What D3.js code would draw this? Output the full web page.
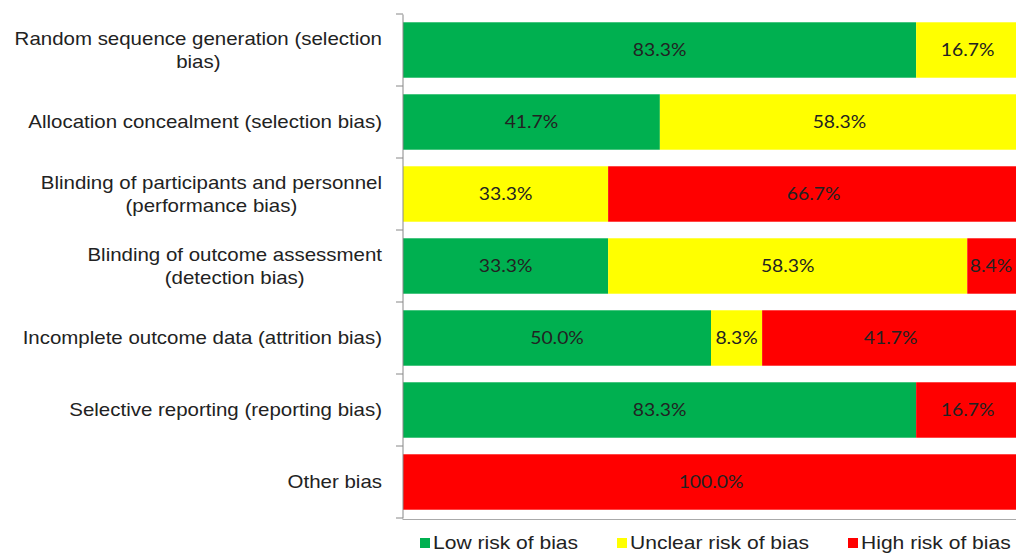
<!DOCTYPE html>
<html>
<head>
<meta charset="utf-8">
<script src="https://cdn.jsdelivr.net/npm/d3@7"></script>
<style>
  body { margin: 0; background: #fff; }
  svg { display: block; }
</style>
</head>
<body>
<svg width="1016" height="554"></svg>
<script>
const categories = [
    ["Random sequence generation (selection", "bias)"],
    ["Allocation concealment (selection bias)"],
    ["Blinding of participants and personnel", "(performance bias)"],
    ["Blinding of outcome assessment", "(detection bias)"],
    ["Incomplete outcome data (attrition bias)"],
    ["Selective reporting (reporting bias)"],
    ["Other bias"]
];
const lowRisk = [83.3, 41.7, 0, 33.3, 50.0, 83.3, 0];
const unclearRisk = [16.7, 58.3, 33.3, 58.3, 8.3, 0, 0];
const highRisk = [0, 0, 66.7, 8.4, 41.7, 16.7, 100.0];
const seriesNames = ["Low risk of bias", "Unclear risk of bias", "High risk of bias"];
const seriesColors = ["#00b050", "#ffff00", "#ff0000"];

let graphic = d3.select("svg"),
    plotLeft = 403, plotRight = 1019, plotTop = 14, plotBottom = 518,
    labelRight = 382,
    stretch = 1.17;  // the original picture is a bit wider than tall

function place(sel, fx, fy) {
    sel.attr("transform", function (d, i) {
        return "translate(" + fx(d, i) + "," + fy(d, i) + ") scale(" + stretch + ",1)";
    });
}

let rows = categories.map(function (c, i) {
    return {id: i, low: lowRisk[i], unclear: unclearRisk[i], high: highRisk[i]};
});
let keys = ["low", "unclear", "high"];
let stacked = d3.stack().keys(keys)(rows);

let x = d3.scaleLinear().domain([0, 100]).range([plotLeft, plotRight]);
let y = d3.scaleBand().domain(d3.range(categories.length)).range([plotTop, plotBottom]).paddingInner(0.23).paddingOuter(0.115);
let color = d3.scaleOrdinal().domain(keys).range(seriesColors);

// bars
let layer = graphic.selectAll(".layer")
    .data(stacked)
    .enter().append("g")
    .attr("class", "layer")
    .attr("fill", function (d) { return color(d.key); });

layer.selectAll("rect")
    .data(function (d) { return d.filter(function (s) { return s[1] - s[0] > 0; }); })
    .enter().append("rect")
    .attr("x", function (d) { return x(d[0]); })
    .attr("y", function (d) { return y(d.data.id); })
    .attr("width", function (d) { return x(d[1]) - x(d[0]); })
    .attr("height", y.bandwidth());

layer.selectAll("text")
    .data(function (d) { return d.filter(function (s) { return s[1] - s[0] > 0; }); })
    .enter().append("text")
    .attr("dy", "0.35em")
    .attr("text-anchor", "middle")
    .style("font-family", "Lato, 'Open Sans', sans-serif")
    .style("font-size", "16.5px")
    .style("fill", "#222")
    .text(function (d) { return (d[1] - d[0]).toFixed(1) + "%"; })
    .call(place,
        function (d) { return Math.min((x(d[0]) + x(d[1])) / 2, 1016 - 25); },
        function (d) { return y(d.data.id) + y.bandwidth() / 2; });

// axes
let yAxis = d3.axisLeft(y).tickSize(0).tickFormat("");
graphic.append("g")
    .attr("transform", "translate(" + (plotLeft - 0.5) + ",0)")
    .call(yAxis)
    .call(function (g) { g.select(".domain").attr("stroke", "#888"); });

// category separator ticks
graphic.append("g").selectAll("line")
    .data(d3.range(categories.length + 1))
    .enter().append("line")
    .attr("x1", plotLeft - 7).attr("x2", plotLeft)
    .attr("y1", function (d) { return plotTop + d * y.step(); })
    .attr("y2", function (d) { return plotTop + d * y.step(); })
    .attr("stroke", "#888");

graphic.append("line")
    .attr("x1", plotLeft - 0.5).attr("x2", 1016)
    .attr("y1", plotBottom + 1.5).attr("y2", plotBottom + 1.5)
    .attr("stroke", "#aaa");

// category labels
let labels = graphic.append("g")
    .style("font-family", "'Liberation Sans', Arial, sans-serif")
    .style("font-size", "17.5px")
    .style("fill", "#222");

categories.forEach(function (lines, i) {
    let cy = y(i) + y.bandwidth() / 2;
    let lh = 23;
    let first = labels.append("text")
        .datum(lines[0])
        .attr("dy", "0.35em")
        .attr("text-anchor", "end")
        .text(lines[0])
        .call(place, function () { return labelRight; },
            function () { return cy - (lines.length - 1) * lh / 2; });
    if (lines.length > 1) {
        let w = first.node().getComputedTextLength() * stretch;
        labels.append("text")
            .datum(lines[1])
            .attr("dy", "0.35em")
            .attr("text-anchor", "middle")
            .text(lines[1])
            .call(place, function () { return labelRight - w / 2; },
                function () { return cy + lh / 2; });
    }
});

// legend
let legendX = [420, 617, 848];
let legend = graphic.append("g")
    .selectAll("g")
    .data(seriesNames)
    .enter().append("g")
    .attr("transform", function (d, i) { return "translate(" + legendX[i] + ",543)"; });

legend.append("rect")
    .attr("x", 0).attr("y", -5)
    .attr("width", 10).attr("height", 10)
    .attr("fill", function (d, i) { return seriesColors[i]; });

legend.append("text")
    .attr("dy", "0.35em")
    .style("font-family", "'Liberation Sans', Arial, sans-serif")
    .style("font-size", "18px")
    .style("fill", "#222")
    .text(function (d) { return d; })
    .call(place, function () { return 13; }, function () { return 0; });
</script>
</body>
</html>
